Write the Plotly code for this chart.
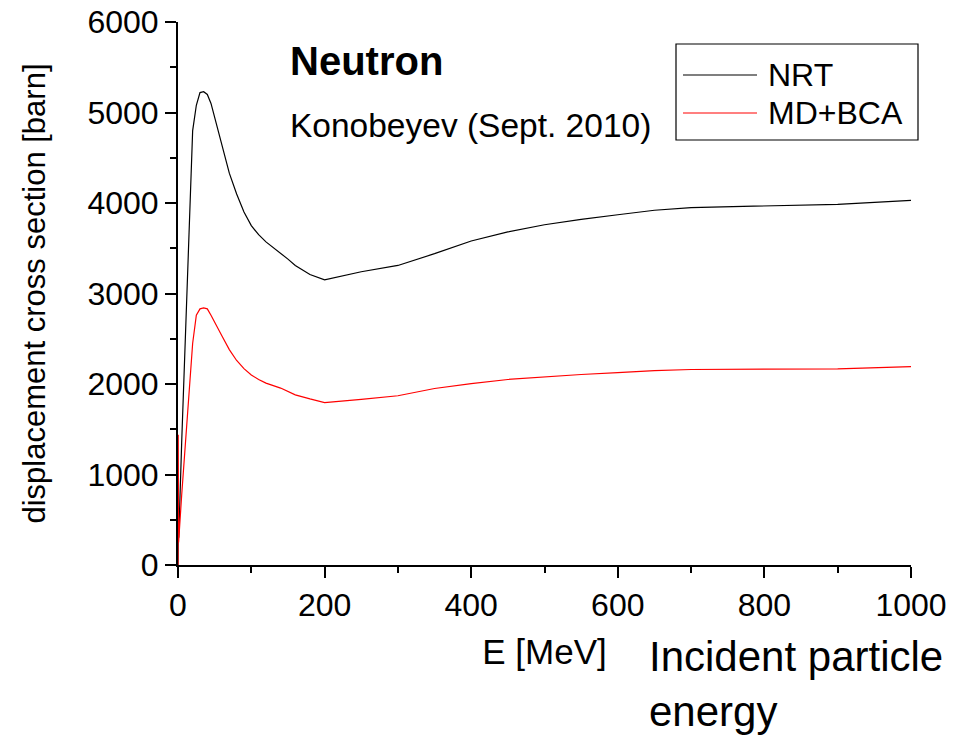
import plotly.graph_objects as go

# ---- data ----
energy_nrt = [0, 0.5, 1, 5, 10, 15, 20, 25, 30, 35, 40, 45, 50, 60, 70, 80, 90, 100, 110, 120,
              140, 150, 160, 180, 200, 250, 300, 350, 400, 450, 500, 550, 600, 650, 700, 800, 900, 1000]
sigma_nrt = [0, 700, 300, 1350, 2550, 3780, 4800, 5080, 5220, 5230, 5200, 5100, 4950, 4640, 4330,
             4100, 3900, 3750, 3650, 3570, 3450, 3380, 3310, 3210, 3150, 3240, 3310, 3440, 3580,
             3680, 3760, 3820, 3870, 3920, 3950, 3970, 3985, 4030]

energy_md = [0, 0.3, 0.8, 5, 10, 15, 20, 25, 30, 35, 40, 45, 50, 60, 70, 80, 90, 100, 110, 120,
             140, 150, 160, 180, 200, 250, 300, 350, 400, 450, 500, 550, 600, 650, 700, 800, 900, 1000]
sigma_md = [0, 1440, 250, 770, 1360, 1966, 2450, 2760, 2830, 2840, 2830, 2760, 2680, 2530, 2380,
            2260, 2170, 2100, 2050, 2010, 1955, 1915, 1880, 1835, 1795, 1830, 1870, 1950, 2005,
            2050, 2080, 2105, 2125, 2147, 2160, 2168, 2168, 2192]

series_names = ["NRT", "MD+BCA"]
series_colors = ["black", "red"]

x_ticks = [0, 200, 400, 600, 800, 1000]
y_ticks = [0, 1000, 2000, 3000, 4000, 5000, 6000]

FONT = "Liberation Sans, Arial, sans-serif"
W, H = 953, 738
L, R, T, B = 178, 911, 22, 565  # plot area in pixels


def px(xp):
    return (xp - L) / (R - L)


def py(yp):
    return (B - yp) / (B - T)


fig = go.Figure()
fig.add_trace(go.Scatter(x=energy_nrt, y=sigma_nrt, mode="lines", name=series_names[0],
                         line=dict(color=series_colors[0], width=1.2), showlegend=False))
fig.add_trace(go.Scatter(x=energy_md, y=sigma_md, mode="lines", name=series_names[1],
                         line=dict(color=series_colors[1], width=1.2), showlegend=False))

axis_common = dict(showgrid=False, zeroline=False, showline=True, linecolor="black", linewidth=2,
                   ticks="outside", ticklen=11, tickwidth=2, tickcolor="black", automargin=False,
                   tickfont=dict(family=FONT, size=32, color="black"))

fig.update_xaxes(range=[0, 1000], tickvals=x_ticks,
                 minor=dict(dtick=100, ticks="outside", ticklen=6, tickwidth=2, tickcolor="black"),
                 title=dict(text="E [MeV]", font=dict(family=FONT, size=35, color="black"), standoff=17),
                 **axis_common)
fig.update_yaxes(range=[0, 6000], tickvals=y_ticks,
                 minor=dict(dtick=500, ticks="outside", ticklen=6, tickwidth=2, tickcolor="black"),
                 title=dict(text="displacement cross section [barn]",
                            font=dict(family=FONT, size=31, color="black"), standoff=33),
                 **axis_common)

annotations = [
    dict(text="<b>Neutron</b>", x=px(288), y=py(61), xanchor="left", yanchor="middle",
         font=dict(family=FONT, size=40, color="black")),
    dict(text="Konobeyev (Sept. 2010)", x=px(288), y=py(126), xanchor="left", yanchor="middle",
         font=dict(family=FONT, size=33.5, color="black")),
    dict(text="Incident particle<br>energy", x=px(647), y=py(684), xanchor="left", yanchor="middle",
         align="left", font=dict(family=FONT, size=42, color="black")),
]

# manual legend
shapes = [dict(type="rect", xref="paper", yref="paper", x0=px(676), x1=px(918), y0=py(140), y1=py(44),
               line=dict(color="black", width=1.2), fillcolor="white", layer="above")]
legend_rows = [75, 113]
for name, color, yrow in zip(series_names, series_colors, legend_rows):
    shapes.append(dict(type="line", xref="paper", yref="paper", x0=px(683), x1=px(757),
                       y0=py(yrow), y1=py(yrow), line=dict(color=color, width=1.2), layer="above"))
    annotations.append(dict(text=name, x=px(766), y=py(yrow), xanchor="left", yanchor="middle",
                            font=dict(family=FONT, size=32, color="black")))

for a in annotations:
    a.update(xref="paper", yref="paper", showarrow=False)

fig.update_layout(width=W, height=H, margin=dict(l=L, r=W - R, t=T, b=H - B),
                  paper_bgcolor="white", plot_bgcolor="white",
                  annotations=annotations, shapes=shapes, showlegend=False)

fig.write_html("out.html")
